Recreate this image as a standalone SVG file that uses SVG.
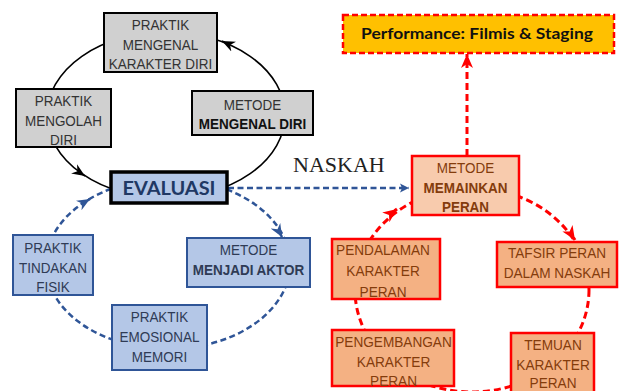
<svg xmlns="http://www.w3.org/2000/svg" width="620" height="391" viewBox="0 0 620 391">
<style>
.t{font-family:"Liberation Sans",Arial,sans-serif;font-size:15.5px;text-anchor:middle}
.b{font-weight:bold}
.gray rect{fill:#d0d0d0;stroke:#000;stroke-width:2}
.gray text{fill:#333}
.blue rect{fill:#b4c7e7;stroke:#2f5597;stroke-width:2}
.blue text{fill:#2f3b55}
.red rect{fill:#f4b183;stroke:#ff0000;stroke-width:2.5}
.red text{fill:#843c0c}
.blk{fill:none;stroke:#000;stroke-width:1.6}
.bd{fill:none;stroke:#2f5597;stroke-width:2.5;stroke-dasharray:6 3.5}
.rd{fill:none;stroke:#ff0000;stroke-width:3;stroke-dasharray:7 4}
</style>
<defs>
<marker id="ak" viewBox="-13 -6 14 12" refX="0" refY="0" markerWidth="14" markerHeight="12" markerUnits="userSpaceOnUse" orient="auto"><path d="M0,0 L-13,-5.5 L-9,0 L-13,5.5 Z" fill="#000"/></marker>
<marker id="ab" viewBox="-13 -6 14 12" refX="0" refY="0" markerWidth="14" markerHeight="12" markerUnits="userSpaceOnUse" orient="auto"><path d="M0,0 L-13,-5.5 L-9,0 L-13,5.5 Z" fill="#2f5597"/></marker>
<marker id="ab2" viewBox="-10 -5 11 10" refX="0" refY="0" markerWidth="11" markerHeight="10" markerUnits="userSpaceOnUse" orient="auto"><path d="M0,0 L-9,-4.5 L-7,0 L-9,4.5 Z" fill="#2f5597"/></marker>
<marker id="ar" viewBox="-14 -7 15 14" refX="0" refY="0" markerWidth="15" markerHeight="14" markerUnits="userSpaceOnUse" orient="auto"><path d="M0,0 L-14,-6 L-10,0 L-14,6 Z" fill="#ff0000"/></marker>
</defs>
<g id="connectors">
<ellipse class="blk" cx="166" cy="115" rx="119" ry="83"/>
<path class="blk" d="M224.7 42.3 L222 41" marker-end="url(#ak)"/>
<path class="blk" d="M82.5 174.4 L85 176" marker-end="url(#ak)"/>
<ellipse class="bd" cx="168" cy="264" rx="122" ry="85"/>
<path class="bd" d="M87.4 200.5 L90 199" stroke-dasharray="none" marker-end="url(#ab)"/>
<path class="bd" d="M280.5 234.4 L282 237" stroke-dasharray="none" marker-end="url(#ab)"/>
<path class="bd" d="M228 188 L409 188" marker-end="url(#ab2)"/>
<ellipse class="rd" cx="472" cy="290" rx="117" ry="102"/>
<path class="rd" d="M394.6 210.8 L397 209" stroke-dasharray="none" marker-end="url(#ar)"/>
<path class="rd" d="M573.4 237.5 L575 240" stroke-dasharray="none" marker-end="url(#ar)"/>
<path class="rd" d="M467 156 L467 54" marker-end="url(#ar)"/>
<text x="293" y="172" font-family="Liberation Serif,serif" font-size="22" fill="#222">NASKAH</text>
</g>
<g id="praktik-mengenal" class="gray">
<rect x="104" y="13" width="113" height="59"/>
<text class="t" transform="translate(160.5 0) scale(0.87 1)"><tspan x="0" y="30">PRAKTIK</tspan><tspan x="0" y="50">MENGENAL</tspan><tspan x="0" y="69">KARAKTER DIRI</tspan></text>
</g>
<g id="praktik-mengolah" class="gray">
<rect x="16" y="89" width="95" height="58"/>
<text class="t" transform="translate(63.5 0) scale(0.87 1)"><tspan x="0" y="106">PRAKTIK</tspan><tspan x="0" y="126">MENGOLAH</tspan><tspan x="0" y="145">DIRI</tspan></text>
</g>
<g id="metode-mengenal" class="gray">
<rect x="192" y="91" width="121" height="44"/>
<text class="t" transform="translate(252.5 0) scale(0.87 1)"><tspan x="0" y="110">METODE</tspan><tspan class="b" x="0" y="129" fill="#111">MENGENAL DIRI</tspan></text>
</g>
<g id="evaluasi">
<rect x="111" y="172" width="116" height="31" fill="#b4c7e7" stroke="#000" stroke-width="3.5"/>
<text x="169" y="195" font-family="Lato,'Open Sans',sans-serif" font-weight="bold" font-size="19" fill="#203864" text-anchor="middle" textLength="93" lengthAdjust="spacingAndGlyphs">EVALUASI</text>
</g>
<g id="praktik-tindakan" class="blue">
<rect x="13" y="235" width="80" height="60"/>
<text class="t" transform="translate(53 0) scale(0.87 1)"><tspan x="0" y="253">PRAKTIK</tspan><tspan x="0" y="273">TINDAKAN</tspan><tspan x="0" y="292">FISIK</tspan></text>
</g>
<g id="metode-aktor" class="blue">
<rect x="187" y="238" width="123" height="49"/>
<text class="t" transform="translate(248.5 0) scale(0.87 1)"><tspan x="0" y="255">METODE</tspan><tspan class="b" x="0" y="275">MENJADI AKTOR</tspan></text>
</g>
<g id="praktik-emosional" class="blue">
<rect x="112" y="305" width="95" height="65"/>
<text class="t" transform="translate(159.5 0) scale(0.87 1)"><tspan x="0" y="322">PRAKTIK</tspan><tspan x="0" y="342">EMOSIONAL</tspan><tspan x="0" y="362">MEMORI</tspan></text>
</g>
<g id="performance">
<rect x="343" y="15" width="271" height="38" fill="#ffc000" stroke="#ff0000" stroke-width="2.5" stroke-dasharray="6 3"/>
<text x="477" y="39" font-family="Lato,'Open Sans',sans-serif" font-weight="bold" font-size="16" fill="#111" text-anchor="middle" textLength="232" lengthAdjust="spacingAndGlyphs">Performance: Filmis &amp; Staging</text>
</g>
<g id="metode-memainkan" class="red">
<rect x="412" y="156" width="107" height="59" style="fill:#f8cbad"/>
<text class="t" transform="translate(465.5 0) scale(0.87 1)"><tspan x="0" y="173">METODE</tspan><tspan class="b" x="0" y="193">MEMAINKAN</tspan><tspan class="b" x="0" y="212">PERAN</tspan></text>
</g>
<g id="pendalaman" class="red">
<rect x="332" y="239" width="108" height="60"/>
<text class="t" transform="translate(383 0) scale(0.88 1)"><tspan x="0" y="255">PENDALAMAN</tspan><tspan x="0" y="276">KARAKTER</tspan><tspan x="0" y="297">PERAN</tspan></text>
</g>
<g id="tafsir" class="red">
<rect x="497" y="242" width="120" height="45"/>
<text class="t" transform="translate(557 0) scale(0.88 1)"><tspan x="0" y="258">TAFSIR PERAN</tspan><tspan x="0" y="278">DALAM NASKAH</tspan></text>
</g>
<g id="pengembangan" class="red">
<rect x="332" y="330" width="122" height="56"/>
<text class="t" transform="translate(393.5 0) scale(0.88 1)"><tspan x="0" y="347">PENGEMBANGAN</tspan><tspan x="0" y="367">KARAKTER</tspan><tspan x="0" y="386">PERAN</tspan></text>
</g>
<g id="temuan" class="red">
<rect x="511" y="333" width="83" height="70"/>
<text class="t" transform="translate(553 0) scale(0.88 1)"><tspan x="0" y="350">TEMUAN</tspan><tspan x="0" y="370">KARAKTER</tspan><tspan x="0" y="388">PERAN</tspan></text>
</g>
</svg>
